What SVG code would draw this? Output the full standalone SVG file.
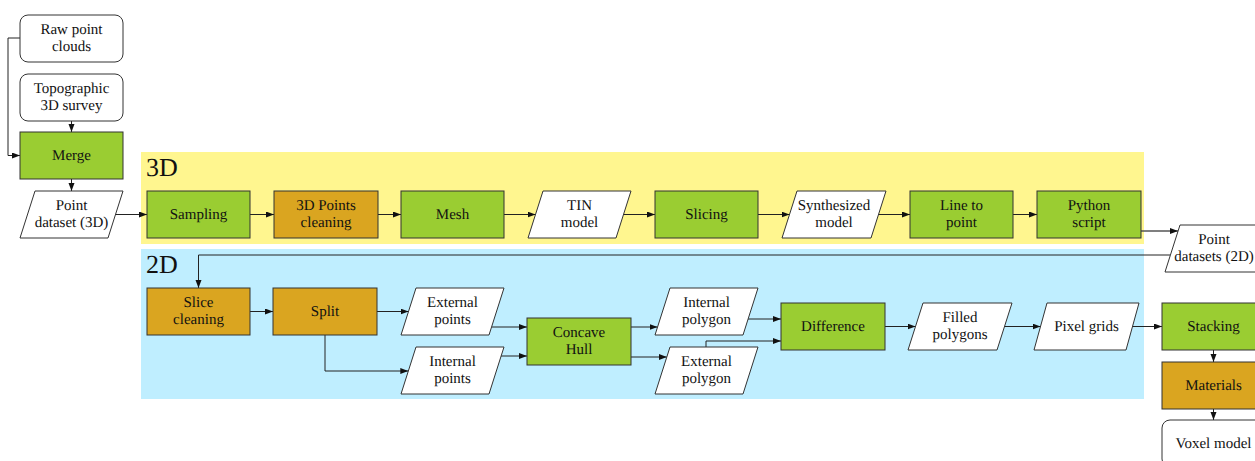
<svg xmlns="http://www.w3.org/2000/svg" width="1255" height="461" viewBox="0 0 1255 461">
<defs>
<marker id="arr" markerUnits="userSpaceOnUse" markerWidth="9" markerHeight="7" refX="8" refY="3" orient="auto">
<path d="M0,0 L8,3 L0,6 z" fill="#111"/>
</marker>
<style>
text{font-family:"Liberation Serif","Times New Roman",serif;font-size:15px;fill:#111;text-anchor:middle;text-rendering:geometricPrecision}
.big{font-size:26px;text-anchor:start}
.g{fill:#9acd32;stroke:#333;stroke-width:1}
.o{fill:#daa520;stroke:#333;stroke-width:1}
.w{fill:#fff;stroke:#333;stroke-width:1}
#connectors path{fill:none;stroke:#222;stroke-width:1;marker-end:url(#arr)}
</style>
</defs>
<rect width="1255" height="461" fill="#fff"/>
<g id="bands">
<rect x="141" y="152" width="1003" height="92" fill="#fff68f"/>
<rect x="141" y="249" width="1003" height="150" fill="#bfeeff"/>
<text class="big" x="146" y="176">3D</text>
<text class="big" x="146" y="273">2D</text>
</g>
<g id="connectors">
<path d="M20,38 H8 V155.5 H20"/>
<path d="M71.5,121 V132"/>
<path d="M71.5,179 V191"/>
<path d="M115.5,214.5 H147"/>
<path d="M250,214.5 H274"/>
<path d="M378,214.5 H401"/>
<path d="M504,214.5 H535.5"/>
<path d="M623.5,214.5 H655"/>
<path d="M758,214.5 H789.5"/>
<path d="M878.5,214.5 H910"/>
<path d="M1013,214.5 H1037"/>
<path d="M1141,231 H1178" style="stroke:#555;stroke-width:1.5"/>
<path d="M1170,255 H198.5 V288"/>
<path d="M250,311.5 H273"/>
<path d="M377,311.5 H408.5"/>
<path d="M325,335 V371 H408.3"/>
<path d="M491.6,327 H527"/>
<path d="M501,356 H527"/>
<path d="M631,327 H657.6"/>
<path d="M631,357 H666.8"/>
<path d="M748,319 H781"/>
<path d="M706,347 V341 H781"/>
<path d="M885,326.5 H915.5"/>
<path d="M1004.5,326.5 H1040.5"/>
<path d="M1132.5,326.5 H1162"/>
<path d="M1213.5,350 V362"/>
<path d="M1213.5,409 V420"/>
</g>
<g id="raw"><rect class="w" x="20" y="15" width="103" height="47" rx="8"/><text x="71.5" y="34">Raw point</text><text x="71.5" y="51">clouds</text></g>
<g id="topo"><rect class="w" x="20" y="74" width="103" height="47" rx="8"/><text x="71.5" y="93">Topographic</text><text x="71.5" y="110">3D survey</text></g>
<g id="merge"><rect class="g" x="20" y="132" width="103" height="47"/><text x="71.5" y="159.5">Merge</text></g>
<g id="pd3d"><polygon class="w" points="35,191 123,191 108,238 20,238"/><text x="71.5" y="210">Point</text><text x="71.5" y="227">dataset (3D)</text></g>
<g id="sampling"><rect class="g" x="147" y="191" width="103" height="47"/><text x="198.5" y="218.5">Sampling</text></g>
<g id="cleaning3d"><rect class="o" x="274" y="191" width="104" height="47"/><text x="326" y="210">3D Points</text><text x="326" y="227">cleaning</text></g>
<g id="mesh"><rect class="g" x="401" y="191" width="103" height="47"/><text x="452.5" y="218.5">Mesh</text></g>
<g id="tin"><polygon class="w" points="543,191 631,191 616,238 528,238"/><text x="579.5" y="210">TIN</text><text x="579.5" y="227">model</text></g>
<g id="slicing"><rect class="g" x="655" y="191" width="103" height="47"/><text x="706.5" y="218.5">Slicing</text></g>
<g id="synth"><polygon class="w" points="797,191 886,191 871,238 782,238"/><text x="834" y="210">Synthesized</text><text x="834" y="227">model</text></g>
<g id="line2pt"><rect class="g" x="910" y="191" width="103" height="47"/><text x="961.5" y="210">Line to</text><text x="961.5" y="227">point</text></g>
<g id="python"><rect class="g" x="1037" y="191" width="104" height="47"/><text x="1089" y="210">Python</text><text x="1089" y="227">script</text></g>
<g id="pd2d"><polygon class="w" points="1180,225 1283,225 1268,272 1165,272"/><text x="1214" y="244">Point</text><text x="1214" y="261">datasets (2D)</text></g>
<g id="slicecleaning"><rect class="o" x="147" y="288" width="103" height="47"/><text x="198.5" y="307">Slice</text><text x="198.5" y="324">cleaning</text></g>
<g id="split"><rect class="o" x="273" y="288" width="104" height="47"/><text x="325" y="315.5">Split</text></g>
<g id="extpts"><polygon class="w" points="416,288 504,288 489,335 401,335"/><text x="452.5" y="307">External</text><text x="452.5" y="324">points</text></g>
<g id="intpts"><polygon class="w" points="416,347 504,347 489,394 401,394"/><text x="452.5" y="366">Internal</text><text x="452.5" y="383">points</text></g>
<g id="concave"><rect class="g" x="527" y="318" width="104" height="47"/><text x="579" y="337">Concave</text><text x="579" y="354">Hull</text></g>
<g id="intpoly"><polygon class="w" points="670,288 758,288 743,335 655,335"/><text x="706.5" y="307">Internal</text><text x="706.5" y="324">polygon</text></g>
<g id="extpoly"><polygon class="w" points="670,347 758,347 743,394 655,394"/><text x="706.5" y="366">External</text><text x="706.5" y="383">polygon</text></g>
<g id="difference"><rect class="g" x="781" y="303" width="104" height="47"/><text x="833" y="330.5">Difference</text></g>
<g id="filled"><polygon class="w" points="923,303 1012,303 997,350 908,350"/><text x="960" y="322">Filled</text><text x="960" y="339">polygons</text></g>
<g id="pixel"><polygon class="w" points="1047,303 1139,303 1126,350 1034,350"/><text x="1086.5" y="330.5">Pixel grids</text></g>
<g id="stacking"><rect class="g" x="1162" y="303" width="103" height="47"/><text x="1213.5" y="330.5">Stacking</text></g>
<g id="materials"><rect class="o" x="1162" y="362" width="103" height="47"/><text x="1213.5" y="389.5">Materials</text></g>
<g id="voxel"><rect class="w" x="1162" y="420" width="103" height="47" rx="8"/><text x="1213.5" y="447.5">Voxel model</text></g>
</svg>
